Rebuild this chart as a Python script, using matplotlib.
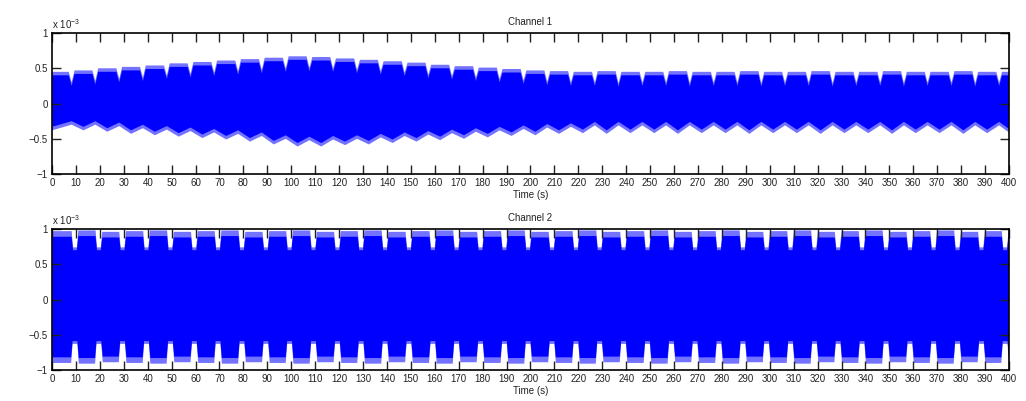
import matplotlib as mpl
mpl.use('Agg')

fsize = 7
mpl.rcParams['font.family'] = ['Liberation Sans', 'DejaVu Sans']
mpl.rcParams['mathtext.default'] = 'regular'
mpl.rcParams['font.size'] = fsize
mpl.rcParams['xtick.labelsize'] = fsize
mpl.rcParams['ytick.labelsize'] = fsize
mpl.rcParams['axes.linewidth'] = 1.2

import matplotlib.pyplot as plt
import numpy as np

#----------data (values in units of 1e-3)----------#
t_end = 400

#times of the amplitude notches, channel 1 [s]
ch1_dip_t = [8.2, 18.1, 28.1, 38.0, 48.0, 57.9, 67.8, 77.8, 87.7, 97.7,
             107.6, 117.5, 127.5, 137.4, 147.4, 157.3, 167.2, 177.2, 187.1, 197.1,
             207.0, 216.9, 226.9, 236.8, 246.8, 256.7, 266.6, 276.6, 286.5, 296.5,
             306.4, 316.3, 326.3, 336.2, 346.2, 356.1, 366.0, 376.0, 385.9, 395.9]

#upper envelope between notches (41 segments) and at the notches (40)
ch1_top = [0.45, 0.47, 0.50, 0.52, 0.54, 0.57, 0.59, 0.61, 0.63, 0.65,
           0.67, 0.66, 0.64, 0.62, 0.60, 0.58, 0.55, 0.53, 0.51, 0.49,
           0.47, 0.46, 0.45, 0.46, 0.45, 0.45, 0.46, 0.45, 0.45, 0.46,
           0.45, 0.45, 0.46, 0.45, 0.45, 0.46, 0.45, 0.45, 0.46, 0.45, 0.45]
ch1_notch = [0.30, 0.32, 0.35, 0.37, 0.40, 0.42, 0.44, 0.46, 0.48, 0.50,
             0.51, 0.50, 0.48, 0.46, 0.44, 0.41, 0.39, 0.37, 0.35, 0.33,
             0.31, 0.30, 0.30, 0.29, 0.30, 0.30, 0.29, 0.30, 0.30, 0.29,
             0.30, 0.30, 0.29, 0.30, 0.30, 0.29, 0.30, 0.30, 0.29, 0.30]
#lower envelope: deepest point of each segment, and at the notches
ch1_deep = [-0.38, -0.38, -0.40, -0.43, -0.45, -0.47, -0.49, -0.51, -0.54, -0.58,
            -0.61, -0.61, -0.59, -0.58, -0.56, -0.54, -0.52, -0.50, -0.48, -0.46,
            -0.45, -0.43, -0.42, -0.43, -0.42, -0.42, -0.43, -0.42, -0.42, -0.43,
            -0.42, -0.42, -0.43, -0.42, -0.42, -0.43, -0.42, -0.42, -0.43, -0.42, -0.41]
ch1_shallow = [-0.30, -0.30, -0.32, -0.35, -0.37, -0.39, -0.41, -0.43, -0.46, -0.50,
               -0.52, -0.51, -0.50, -0.48, -0.46, -0.44, -0.42, -0.40, -0.38, -0.36,
               -0.34, -0.33, -0.31, -0.31, -0.31, -0.31, -0.31, -0.31, -0.31, -0.31,
               -0.31, -0.31, -0.31, -0.31, -0.31, -0.31, -0.31, -0.31, -0.31, -0.31]

#channel 2
ch2_dip_t = [9.6, 19.6, 29.5, 39.5, 49.5, 59.5, 69.4, 79.4, 89.4, 99.3,
             109.3, 119.3, 129.2, 139.2, 149.2, 159.2, 169.1, 179.1, 189.1, 199.0,
             209.0, 219.0, 228.9, 238.9, 248.9, 258.9, 268.8, 278.8, 288.8, 298.7,
             308.7, 318.7, 328.6, 338.6, 348.6, 358.6, 368.5, 378.5, 388.5, 398.4]
ch2_top = [0.97, 0.98, 0.96, 0.97, 0.98, 0.96, 0.97, 0.98, 0.96, 0.97,
           0.98, 0.96, 0.97, 0.98, 0.96, 0.97, 0.98, 0.96, 0.97, 0.98,
           0.96, 0.97, 0.98, 0.96, 0.97, 0.98, 0.96, 0.97, 0.98, 0.96,
           0.97, 0.98, 0.96, 0.97, 0.98, 0.96, 0.97, 0.98, 0.96, 0.97, 0.97]
ch2_notch = [0.74] * 40
ch2_deep = [-0.90, -0.91, -0.89, -0.90, -0.91, -0.89, -0.90, -0.91, -0.89, -0.90,
            -0.91, -0.89, -0.90, -0.91, -0.89, -0.90, -0.91, -0.89, -0.90, -0.91,
            -0.89, -0.90, -0.91, -0.89, -0.90, -0.91, -0.89, -0.90, -0.91, -0.89,
            -0.90, -0.91, -0.89, -0.90, -0.91, -0.89, -0.90, -0.91, -0.89, -0.90, -0.90]
ch2_shallow = [-0.63] * 40

#----------envelope helpers----------#
def notched_edge(dips, seg, notch, half, shift=0.0):
	#flat between notches, narrow V at each notch
	t = [0.0]
	v = [seg[0] + shift]
	for k, d in enumerate(dips):
		t += [d - half, d, d + half]
		v += [seg[k] + shift, notch[k] + shift, seg[k+1] + shift]
	t.append(t_end)
	v.append(seg[-1] + shift)
	return np.array(t), np.array(v)

def boxed_edge(dips, seg, notch, half, seg_shift=0.0, notch_shift=0.0):
	#flat between notches, gap with sloped sides at each notch
	t = [0.0]
	v = [seg[0] + seg_shift]
	for k, d in enumerate(dips):
		t += [d - half - 0.6, d - half, d + half, d + half + 0.6]
		v += [seg[k] + seg_shift, notch[k] + notch_shift, notch[k] + notch_shift, seg[k+1] + seg_shift]
	t.append(t_end)
	v.append(seg[-1] + seg_shift)
	return np.array(t), np.array(v)

def triangle_edge(dips, seg, notch, shift=0.0):
	#shallow at the notches, deepest halfway between
	mids = [0.5*(dips[k-1] + dips[k]) for k in range(1, len(dips))]
	t = [0.0, dips[0]]
	v = [seg[0] + shift, notch[0] + shift]
	for k in range(1, len(dips)):
		t += [mids[k-1], dips[k]]
		v += [seg[k] + shift, notch[k] + shift]
	t.append(t_end)
	v.append(seg[-1] + shift)
	return np.array(t), np.array(v)

def draw_band(ax, up, lo, **kw):
	xs = np.concatenate([up[0], lo[0][::-1]])
	ys = np.concatenate([up[1], lo[1][::-1]])
	ax.fill(xs, ys, lw=0, **kw)

#----------plotting----------#
fig = plt.figure(figsize=(10.26, 4.01), dpi=100)
ax1 = fig.add_axes([0.0507, 0.566, 0.9327, 0.3516])
ax2 = fig.add_axes([0.0507, 0.0773, 0.9327, 0.3516])

blue = (0, 0, 1)

#channel 1: light fringe then solid core
draw_band(ax1, notched_edge(ch1_dip_t, ch1_top, ch1_notch, 1.2),
          triangle_edge(ch1_dip_t, ch1_deep, ch1_shallow), color=blue, alpha=0.55)
draw_band(ax1, notched_edge(ch1_dip_t, ch1_top, ch1_notch, 1.2, -0.05),
          triangle_edge(ch1_dip_t, ch1_deep, ch1_shallow, 0.05), color=blue)

#channel 2
draw_band(ax2, boxed_edge(ch2_dip_t, ch2_top, ch2_notch, 0.8),
          boxed_edge(ch2_dip_t, ch2_deep, ch2_shallow, 1.0), color=blue, alpha=0.55)
draw_band(ax2, boxed_edge(ch2_dip_t, ch2_top, ch2_notch, 0.8, -0.08, -0.04),
          boxed_edge(ch2_dip_t, ch2_deep, ch2_shallow, 1.0, 0.08, 0.04), color=blue)

for ax, title in [(ax1, "Channel 1"), (ax2, "Channel 2")]:
	ax.set_xlim(0, t_end)
	ax.set_ylim(-1, 1)
	ax.set_xticks(np.arange(0, 401, 10))
	ax.set_yticks([-1, -0.5, 0, 0.5, 1])
	ax.set_yticklabels(["\u22121", "\u22120.5", "0", "0.5", "1"])
	ax.tick_params(direction='in', length=6.5, width=1.0, top=True, right=True,
	               pad=3, colors='#222222')
	ax.set_title(title, fontsize=fsize, pad=6, color='#222222')
	ax.set_xlabel("Time (s)", fontsize=fsize, labelpad=1, color='#222222')
	ax.text(0.0, 1.015, r"x 10$^{-3}$", transform=ax.transAxes, ha='left', va='bottom',
	        fontsize=fsize, color='#222222')

plt.savefig("out.png", dpi=100)
